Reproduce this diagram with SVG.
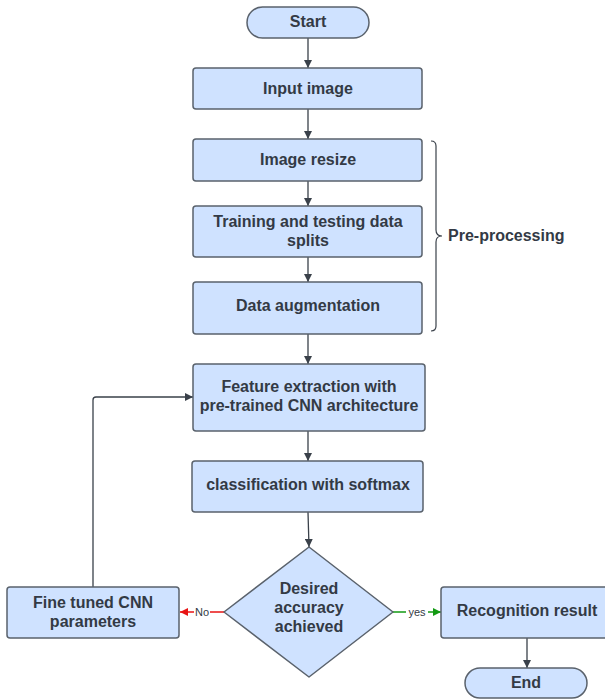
<svg xmlns="http://www.w3.org/2000/svg" width="605" height="699" viewBox="0 0 605 699">
<defs>
<marker id="ah" viewBox="0 0 10 10" refX="10" refY="5" markerWidth="8" markerHeight="8" markerUnits="userSpaceOnUse" orient="auto"><path d="M0,0 L10,5 L0,10 z" fill="#3a414a"/></marker>
<marker id="ahr" viewBox="0 0 10 10" refX="10" refY="5" markerWidth="8" markerHeight="8" markerUnits="userSpaceOnUse" orient="auto"><path d="M0,0 L10,5 L0,10 z" fill="#e81313"/></marker>
<marker id="ahg" viewBox="0 0 10 10" refX="10" refY="5" markerWidth="8" markerHeight="8" markerUnits="userSpaceOnUse" orient="auto"><path d="M0,0 L10,5 L0,10 z" fill="#129a12"/></marker>
</defs>
<style>
.n{fill:#cfe2ff;stroke:#5a626c;stroke-width:1.5}
.t{font-family:"Liberation Sans",Arial,sans-serif;font-weight:bold;font-size:16px;fill:#333a45;text-anchor:middle}
.c{fill:none;stroke:#3a414a;stroke-width:1.3}
.s{font-family:"Liberation Sans",Arial,sans-serif;font-size:11px;fill:#333a45;text-anchor:middle}
</style>
<rect width="605" height="699" fill="#ffffff"/>
<g id="connectors">
<path class="c" d="M308,38 V68" marker-end="url(#ah)"/>
<path class="c" d="M308,109 V139" marker-end="url(#ah)"/>
<path class="c" d="M308,181 V206" marker-end="url(#ah)"/>
<path class="c" d="M308,257 V282" marker-end="url(#ah)"/>
<path class="c" d="M308,334 V364" marker-end="url(#ah)"/>
<path class="c" d="M308,431 V461" marker-end="url(#ah)"/>
<path class="c" d="M308,512 L309,547" marker-end="url(#ah)"/>
<path class="c" d="M93,587 V400 Q93,397 96,397 H193" marker-end="url(#ah)"/>
<path d="M224,612 H180" fill="none" stroke="#e81313" stroke-width="1.3" marker-end="url(#ahr)"/>
<rect x="194" y="606" width="16" height="11" fill="#ffffff"/>
<text class="s" x="202" y="616">No</text>
<path d="M393,612 H441" fill="none" stroke="#129a12" stroke-width="1.3" marker-end="url(#ahg)"/>
<rect x="406" y="606" width="22" height="11" fill="#ffffff"/>
<text class="s" x="417" y="616">yes</text>
<path class="c" d="M527,638 V668" marker-end="url(#ah)"/>
<path d="M431,141 Q436,141 436,146 V230 Q436,236 442,236 Q436,236 436,242 V326 Q436,331 431,331" fill="none" stroke="#3a414a" stroke-width="1.2"/>
</g>
<g id="start"><rect class="n" x="247" y="7" width="122" height="31" rx="15.5"/><text class="t" x="308" y="27">Start</text></g>
<g id="input"><rect class="n" x="193" y="68" width="229" height="41" rx="3"/><text class="t" x="308" y="94">Input image</text></g>
<g id="resize"><rect class="n" x="193" y="139" width="229" height="42" rx="3"/><text class="t" x="308" y="165">Image resize</text></g>
<g id="split"><rect class="n" x="193" y="206" width="229" height="51" rx="3"/><text class="t" x="308" y="227">Training and testing data</text><text class="t" x="308" y="246">splits</text></g>
<g id="augment"><rect class="n" x="193" y="282" width="229" height="52" rx="3"/><text class="t" x="308" y="311">Data augmentation</text></g>
<g id="preprocessing"><text class="t" x="448" y="241" style="text-anchor:start">Pre-processing</text></g>
<g id="feature"><rect class="n" x="193" y="364" width="232" height="67" rx="3"/><text class="t" x="309" y="392">Feature extraction with</text><text class="t" x="309" y="411">pre-trained CNN architecture</text></g>
<g id="classification"><rect class="n" x="192" y="461" width="231" height="51" rx="3"/><text class="t" x="308" y="490">classification with softmax</text></g>
<g id="decision"><path class="n" d="M309,547 L393,612 L309,677 L224,612 Z" stroke-linejoin="round"/><text class="t" x="309" y="594">Desired</text><text class="t" x="309" y="613">accuracy</text><text class="t" x="309" y="632">achieved</text></g>
<g id="finetune"><rect class="n" x="7" y="587" width="172" height="51" rx="3"/><text class="t" x="93" y="608">Fine tuned CNN</text><text class="t" x="93" y="627">parameters</text></g>
<g id="result"><rect class="n" x="441" y="587" width="170" height="51" rx="3"/><text class="t" x="527" y="616">Recognition result</text></g>
<g id="end"><rect class="n" x="465" y="668" width="122" height="30" rx="15"/><text class="t" x="526" y="688">End</text></g>
</svg>
